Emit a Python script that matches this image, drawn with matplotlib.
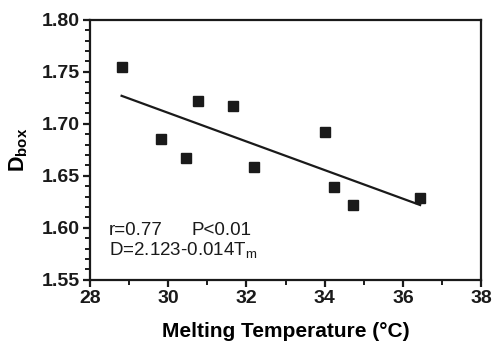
import numpy as np
import matplotlib
matplotlib.use('Agg')
from matplotlib import pyplot as plt
from matplotlib.ticker import MultipleLocator

# datos
tm = [28.81, 29.82, 30.45, 30.76, 31.67, 32.20, 34.01, 34.25, 34.72, 36.44]
dbox = [1.7545, 1.6853, 1.6676, 1.7221, 1.7176, 1.659, 1.6926, 1.639, 1.622, 1.6286]
fit_x = [28.81, 36.44]
fit_y = [1.727, 1.622]
x_ticks = [28, 30, 32, 34, 36, 38]
y_ticks = [1.55, 1.60, 1.65, 1.70, 1.75, 1.80]

plt.rcParams['font.family'] = 'Liberation Sans'
plt.rcParams['mathtext.fontset'] = 'custom'
plt.rcParams['mathtext.rm'] = 'Liberation Sans'
plt.rcParams['mathtext.bf'] = 'Liberation Sans:bold'
plt.rcParams['mathtext.it'] = 'Liberation Sans:italic'

fig = plt.figure(figsize=(4.94, 3.43), dpi=100)
ax = fig.add_axes([0.182, 0.184, 0.792, 0.758])

ax.plot(tm, dbox, 's', color='#1a1a1a', markersize=6.5, linestyle='none')
ax.plot(fit_x, fit_y, '-', color='#1a1a1a', linewidth=1.6)

ax.set_xlim(28, 38)
ax.set_ylim(1.55, 1.80)
ax.set_xticks(x_ticks)
ax.set_yticks(y_ticks)
ax.set_xticklabels([str(t) for t in x_ticks])
ax.set_yticklabels(['%.2f' % t for t in y_ticks])
ax.xaxis.set_minor_locator(MultipleLocator(1))
ax.yaxis.set_minor_locator(MultipleLocator(0.01))

for s in ax.spines.values():
    s.set_linewidth(1.6)
    s.set_color('#1a1a1a')
ax.tick_params(axis='both', which='major', direction='out', length=5, width=1.6,
               labelsize=14, pad=2, colors='#1a1a1a')
ax.tick_params(axis='both', which='minor', direction='out', length=3.5, width=1.4,
               colors='#1a1a1a')
for lab in ax.get_xticklabels() + ax.get_yticklabels():
    lab.set_fontweight('bold')

ax.set_xlabel('Melting Temperature (°C)', fontsize=15, fontweight='bold', labelpad=11)
ax.set_ylabel(r'$\mathbf{D}_{\mathbf{box}}$', fontsize=15.5, labelpad=9)

ax.text(28.49, 1.5975, 'r=0.77', fontsize=13.5, va='center', color='#1a1a1a')
ax.text(30.6, 1.5975, 'P<0.01', fontsize=13.5, va='center', color='#1a1a1a')
ax.text(28.49, 1.5785, r'D=2.123-0.014T$_{\mathrm{m}}$', fontsize=13.5, va='center', color='#1a1a1a')

plt.savefig('out.png', dpi=100)
